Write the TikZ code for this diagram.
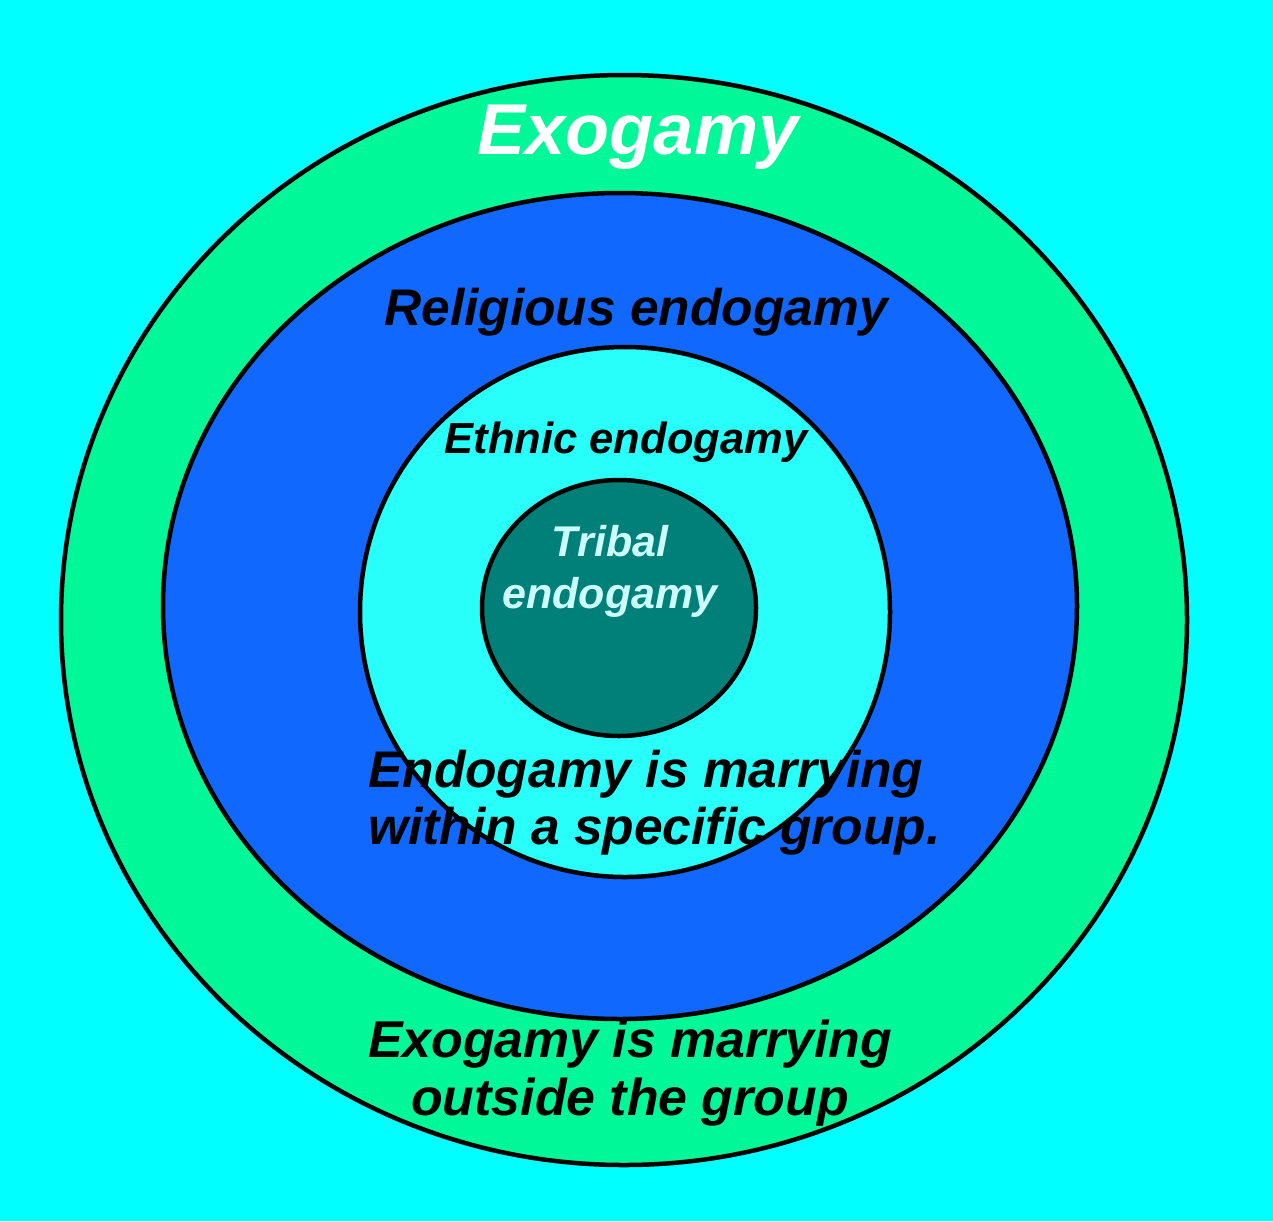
\documentclass[tikz,border=0pt]{standalone}
\usepackage{fontspec}
\setmainfont{Liberation Sans}
\definecolor{bgcyan}{RGB}{0,255,255}
\definecolor{ringgreen}{RGB}{0,248,152}
\definecolor{ringblue}{RGB}{16,104,255}
\definecolor{ringcyan}{RGB}{40,255,250}
\definecolor{coreteal}{RGB}{0,128,120}
\definecolor{tribaltext}{RGB}{205,255,255}
\begin{document}
\begin{tikzpicture}[x=1pt,y=-1pt,
  ring/.style={draw=black,line width=4.5pt},
  lbl/.style={inner sep=0pt,font=\bfseries\itshape}]
\fill[bgcyan] (0,0) rectangle (1273,1221);
\useasboundingbox (0,0) rectangle (1273,1221);
\draw[ring,fill=ringgreen] (624,620) ellipse [x radius=563,y radius=545];
\draw[ring,fill=ringblue] (620,606) ellipse [x radius=457,y radius=413];
\draw[ring,fill=ringcyan] (625,612) ellipse [x radius=265,y radius=265];
\draw[ring,fill=coreteal] (619,608) ellipse [x radius=137,y radius=128];
\node[lbl,text=white,font=\fontsize{72}{80}\selectfont\bfseries\itshape] (exo) at (638,137) {Exogamy};
\node[lbl,font=\fontsize{51.5}{56}\selectfont\bfseries\itshape] (rel) at (636,312) {Religious endogamy};
\node[lbl,font=\fontsize{43.5}{50}\selectfont\bfseries\itshape] (eth) at (626,442) {Ethnic endogamy};
\node[lbl,align=center,text=tribaltext,font=\fontsize{43}{52}\selectfont\bfseries\itshape] (tri) at (610,571) {Tribal\\endogamy};
\node[lbl,align=left,anchor=west,font=\fontsize{51.5}{57}\selectfont\bfseries\itshape] (endo) at (368,803) {Endogamy is marrying\\within a specific group.};
\node[lbl,align=center,font=\fontsize{51.8}{58}\selectfont\bfseries\itshape] (exodef) at (630,1073) {Exogamy is marrying\\outside the group};
\end{tikzpicture}
\end{document}
